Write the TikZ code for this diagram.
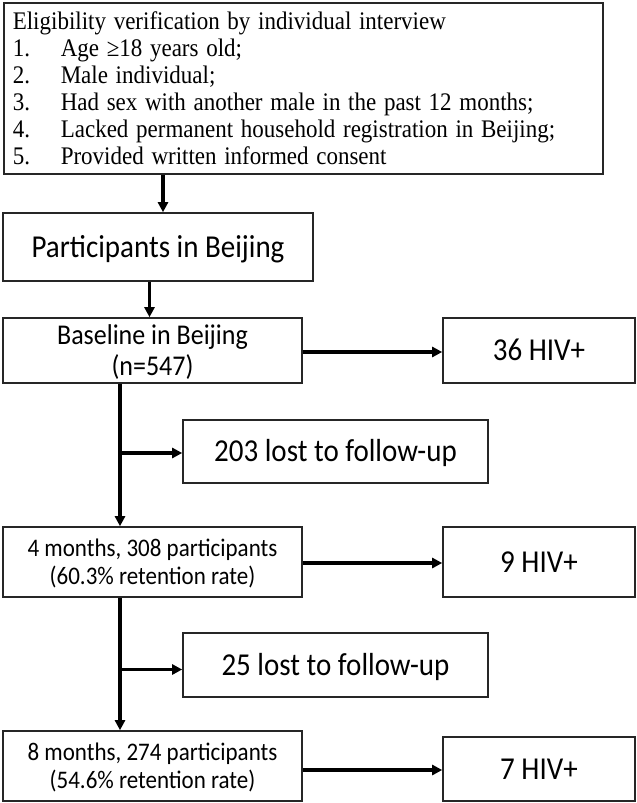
\documentclass[tikz,border=0pt]{standalone}
\usepackage{fontspec}
\usepackage{graphicx}
\setmainfont{Liberation Serif}
\newfontfamily\carl{Carlito}
\usetikzlibrary{arrows.meta}
\newcommand\vstc[1]{\raisebox{-3pt}[\height][\depth]{\scalebox{1}[1.1]{\begin{tabular}{@{}c@{}}#1\end{tabular}}}}
\newcommand\vstl[1]{\raisebox{-3.5pt}[\height][\depth]{\scalebox{1}[1.1]{\begin{tabular}{@{}l@{}}#1\end{tabular}}}}
\begin{document}
\begin{tikzpicture}[x=1pt,y=-1pt,
  box/.style={draw=black!85, line width=1.6pt, inner sep=0pt, align=center},
  arr/.style={line width=3.2pt, -{Triangle[length=10pt,width=10pt]}},
  big/.style={font=\carl\fontsize{29}{32}\selectfont},
  mid/.style={font=\carl\fontsize{26}{28}\selectfont},
  small/.style={font=\carl\fontsize{23}{25.5}\selectfont},
  leftcol/.style={minimum width=299pt, minimum height=70pt},
  hivbox/.style={minimum width=192pt, minimum height=65pt},
  lostbox/.style={minimum width=305pt, minimum height=64pt}
]
\fill[white] (0,0) rectangle (637,803);
\useasboundingbox (0,0) rectangle (637,803);

\node[box, anchor=north west, minimum width=599pt, minimum height=171pt,
      inner xsep=9pt, text width=581pt, align=left,
      font=\fontsize{23}{24.5}\selectfont] (top) at (3,2)
  {\vstl{Eligibility verification by individual interview\\
   \makebox[48pt][l]{1.}Age ≥18 years old;\\
   \makebox[48pt][l]{2.}Male individual;\\
   \makebox[48pt][l]{3.}Had sex with another male in the past 12 months;\\
   \makebox[48pt][l]{4.}Lacked permanent household registration in Beijing;\\
   \makebox[48pt][l]{5.}Provided written informed consent}};

\node[box, big, minimum width=310pt, minimum height=68pt] (part) at (158,247) {\vstc{Participants in Beijing}};
\node[box, mid, leftcol, minimum height=65pt] (base) at (152.5,350.5) {\vstc{Baseline in Beijing\\(n=547)}};
\node[box, big, hivbox] (hiv1) at (539,350.5) {\vstc{36 HIV+}};
\node[box, big, lostbox, minimum height=63pt] (lost1) at (335.5,451.5) {\vstc{203 lost to follow-up}};
\node[box, small, leftcol] (m4) at (152.5,562) {\vstc{4 months, 308 participants\\(60.3\% retention rate)}};
\node[box, big, hivbox, minimum height=70pt] (hiv2) at (539,562) {\vstc{9 HIV+}};
\node[box, big, lostbox] (lost2) at (335.5,665) {\vstc{25 lost to follow-up}};
\node[box, small, leftcol] (m8) at (152.5,766) {\vstc{8 months, 274 participants\\(54.6\% retention rate)}};
\node[box, big, hivbox, minimum height=64pt] (hiv3) at (539,769) {\vstc{7 HIV+}};

\draw[arr] (top.south -| 163,0) -- (part.north -| 163,0);
\draw[arr] (part.south -| 149.5,0) -- (base.north -| 149.5,0);
\draw[arr] (base.east |- 0,352) -- (hiv1.west |- 0,352);
\draw[arr] (base.south -| 120,0) -- (m4.north -| 120,0);
\coordinate (b1) at (120,453);
\draw[arr] (b1) -- (lost1.west |- b1);
\draw[arr] (m4.east |- 0,563) -- (hiv2.west |- 0,563);
\draw[arr] (m4.south -| 120,0) -- (m8.north -| 120,0);
\coordinate (b2) at (120,669.5);
\draw[arr] (b2) -- (lost2.west |- b2);
\draw[arr] (m8.east |- 0,770) -- (hiv3.west |- 0,770);
\end{tikzpicture}
\end{document}
